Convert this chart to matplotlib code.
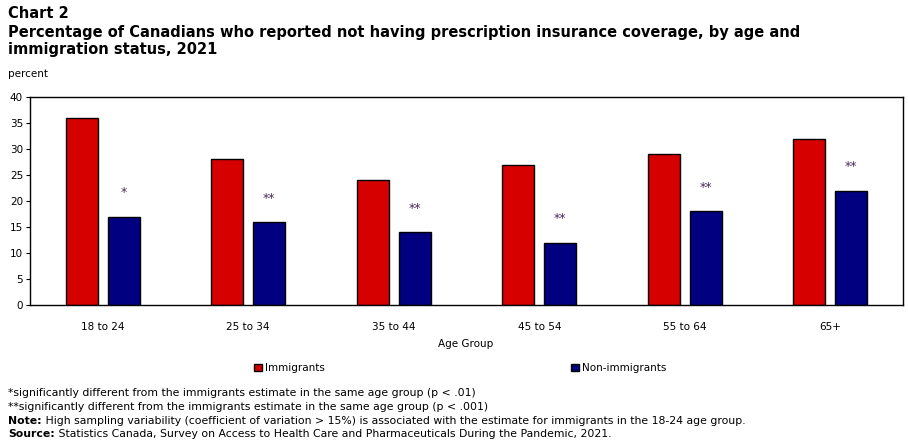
import matplotlib.pyplot as plt
import numpy as np

age_groups = ['18 to 24', '25 to 34', '35 to 44', '45 to 54', '55 to 64', '65+']
immigrants = [36, 28, 24, 27, 29, 32]
non_immigrants = [17, 16, 14, 12, 18, 22]
sig_marks = ['*', '**', '**', '**', '**', '**']

red = '#d70000'
navy = '#000080'

fig = plt.figure(figsize=(9.08, 4.41), dpi=100)
ax = fig.add_axes([30 / 908, 1 - 305 / 441, 873 / 908, 208 / 441])

x = np.arange(len(age_groups))
w = 0.22
ax.bar(x - 0.145, immigrants, w, color=red, edgecolor='black', linewidth=1, label='Immigrants')
ax.bar(x + 0.145, non_immigrants, w, color=navy, edgecolor='black', linewidth=1, label='Non-immigrants')

for xi, v, m in zip(x, non_immigrants, sig_marks):
    ax.text(xi + 0.145, v + 3.3, m, ha='center', va='bottom', fontsize=9, color='#4a2a5a')

ax.set_xlim(-0.5, len(age_groups) - 0.5)
ax.set_ylim(0, 40)
ax.set_yticks(range(0, 41, 5))
ax.set_xticks(x)
ax.set_xticklabels(age_groups)
ax.tick_params(axis='x', length=0, labelsize=7.5, pad=12)
ax.tick_params(axis='y', length=3, labelsize=7.5, pad=2)
for s in ax.spines.values():
    s.set_linewidth(1)

fig.text(8 / 908, 1 - 74 / 441, 'percent', fontsize=7.5, va='center')
fig.text(8 / 908, 1 - 14 / 441, 'Chart 2', fontsize=10.5, fontweight='bold', va='center')
fig.text(8 / 908, 1 - 41 / 441,
         'Percentage of Canadians who reported not having prescription insurance coverage, by age and\nimmigration status, 2021',
         fontsize=10.5, fontweight='bold', va='center', linespacing=1.1)

fig.text(466 / 908, 1 - 344 / 441, 'Age Group', fontsize=7.5, ha='center', va='center')
h, l = ax.get_legend_handles_labels()
fig.legend(h[:1], l[:1], loc='center left', bbox_to_anchor=(245 / 908, 1 - 368 / 441), frameon=False,
           fontsize=7.5, handlelength=0.7, handleheight=0.7, handletextpad=0.3)
fig.legend(h[1:], l[1:], loc='center left', bbox_to_anchor=(562 / 908, 1 - 368 / 441), frameon=False,
           fontsize=7.5, handlelength=0.7, handleheight=0.7, handletextpad=0.3)

# footnotes: bold lead-in followed by plain text
footnotes = [
    ('', '*significantly different from the immigrants estimate in the same age group (p < .01)'),
    ('', '**significantly different from the immigrants estimate in the same age group (p < .001)'),
    ('Note:', ' High sampling variability (coefficient of variation > 15%) is associated with the estimate for immigrants in the 18-24 age group.'),
    ('Source:', ' Statistics Canada, Survey on Access to Health Care and Pharmaceuticals During the Pandemic, 2021.'),
]
notes_y = [393, 407, 421, 434]
renderer = fig.canvas.get_renderer()
for (lead, body), yy in zip(footnotes, notes_y):
    x0 = 8
    if lead:
        t = fig.text(x0 / 908, 1 - yy / 441, lead, fontsize=7.8, fontweight='bold', va='center')
        x0 += t.get_window_extent(renderer).width
    fig.text(x0 / 908, 1 - yy / 441, body, fontsize=7.8, va='center')

fig.savefig('out.png', dpi=100)
